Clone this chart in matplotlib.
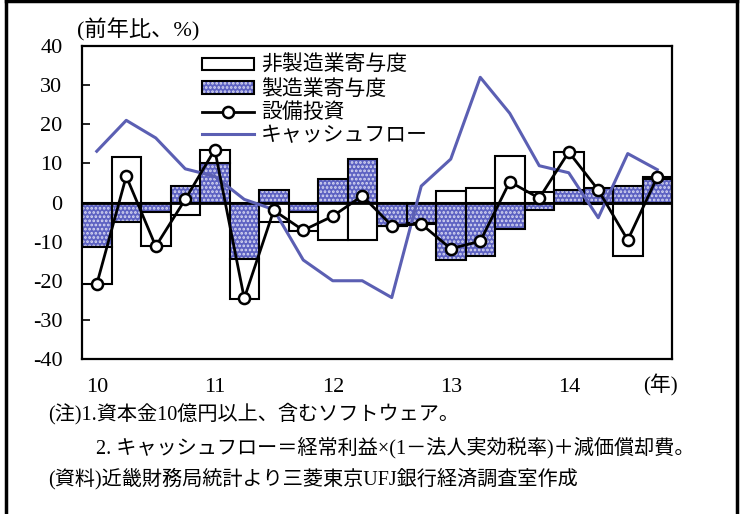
import matplotlib
matplotlib.use('Agg')
import matplotlib.pyplot as plt
from matplotlib.patches import Patch
from matplotlib.lines import Line2D
from matplotlib.legend_handler import HandlerTuple
import numpy as np

plt.rcParams['font.family'] = ['Liberation Serif', 'Noto Sans CJK JP']
plt.rcParams['hatch.linewidth'] = 1.3

# Quarterly data, 2010Q1 - 2014Q4 (year-on-year %, contributions)
quarter_labels = ['10', '', '', '', '11', '', '', '', '12', '', '', '',
                  '13', '', '', '', '14', '', '', '']
manufacturing = [-11.5, -4.9, -2.4, 4.2, 10.1, -14.4, 3.1, -2.5, 6.1, 11.2,
                 -5.9, -5.2, -14.7, -13.7, -6.7, -1.8, 3.3, 3.7, 4.2, 5.9]
non_manufacturing = [-9.3, 11.6, -8.8, -3.3, 3.4, -10.2, -4.9, -4.7, -9.6, -9.6,
                     -0.1, -0.3, 3.0, 3.7, 12.0, 2.6, 9.6, -0.5, -13.7, 0.5]
capex = [-20.9, 6.7, -11.2, 0.8, 13.5, -24.5, -2.0, -7.1, -3.5, 1.7,
         -5.9, -5.5, -11.8, -9.9, 5.3, 1.1, 12.9, 3.2, -9.6, 6.5]
cash_flow = [13.1, 21.0, 16.5, 8.6, 6.7, 0.8, -1.8, -14.7, -20.0, -20.0,
             -24.3, 4.2, 11.1, 32.0, 22.8, 9.4, 7.6, -3.9, 12.5, 8.4]
y_ticks = [-40, -30, -20, -10, 0, 10, 20, 30, 40]

series_labels = ['非製造業寄与度', '製造業寄与度', '設備投資', 'キャッシュフロー']

BAR_BLUE = '#5d62c2'
LINE_BLUE = '#5b5fb3'

W, H = 743, 514
fig = plt.figure(figsize=(W / 100, H / 100), dpi=100)
ax = fig.add_axes([82 / W, 1 - 359 / H, (672 - 82) / W, (359 - 46) / H])

x = np.arange(len(quarter_labels))
mfg = np.array(manufacturing)
nonmfg = np.array(non_manufacturing)
# stack non-manufacturing on top of manufacturing when both share a sign
nonmfg_bottom = np.where(np.sign(nonmfg) == np.sign(mfg), mfg, 0.0)

ax.bar(x, mfg, width=1.0, color=BAR_BLUE, edgecolor='#d8d9f2', hatch='....',
       linewidth=0, zorder=2)
ax.bar(x, mfg, width=1.0, fill=False, edgecolor='black', linewidth=1.5, zorder=3)
ax.bar(x, nonmfg, bottom=nonmfg_bottom, width=1.0, color='white',
       edgecolor='black', linewidth=1.5, zorder=3)
ax.axhline(0, color='black', lw=2.0, zorder=4)
ax.plot(x, cash_flow, color=LINE_BLUE, lw=2.2, zorder=5)
ax.plot(x, capex, color='black', lw=2.0, marker='o', ms=8, mfc='white',
        mec='black', mew=1.8, zorder=6)

ax.set_xlim(-0.5, len(x) - 0.5)
ax.set_ylim(-40, 40)
ax.set_yticks(y_ticks)
ax.set_yticklabels([str(v) for v in y_ticks], fontsize=16)
ax.tick_params(axis='y', direction='in', length=6, width=1.2, pad=14)
ax.set_xticks([])
for s in ax.spines.values():
    s.set_linewidth(1.6)

# category labels below the plot area
for xi, lab in zip(x, quarter_labels):
    if lab:
        ax.annotate(lab, xy=(xi, 0), xycoords=('data', 'axes fraction'),
                    xytext=(0, -28), textcoords='offset pixels',
                    ha='center', va='center', fontsize=16)
fig.text(660 / W, 1 - 385 / H, '(年)', ha='center', va='center', fontsize=15)
fig.text(77 / W, 1 - 30 / H, '(前年比、%)', ha='left', va='center', fontsize=16)

handles = [
    Patch(facecolor='white', edgecolor='black', linewidth=1.5),
    (Patch(facecolor=BAR_BLUE, edgecolor='#d8d9f2', hatch='....', linewidth=0),
     Patch(fill=False, edgecolor='black', linewidth=1.5)),
    Line2D([], [], color='black', lw=2.0, marker='o', ms=8, mfc='white', mew=1.8),
    Line2D([], [], color=LINE_BLUE, lw=2.2),
]
ax.legend(handles, series_labels, handler_map={tuple: HandlerTuple(ndivide=1)},
          loc='upper left', bbox_to_anchor=(0.197, 0.981), frameon=False,
          fontsize=15, handlelength=2.5, handleheight=0.55, handletextpad=0.3,
          labelspacing=0.18, borderpad=0.2, borderaxespad=0.0)

# notes
fig.text(48 / W, 1 - 414 / H, '(注)1.資本金10億円以上、含むソフトウェア。',
         ha='left', va='center', fontsize=14.5)
fig.text(96 / W, 1 - 448 / H,
         '2. キャッシュフロー＝経常利益×(1－法人実効税率)＋減価償却費。',
         ha='left', va='center', fontsize=14.5)
fig.text(48 / W, 1 - 479 / H, '(資料)近畿財務局統計より三菱東京UFJ銀行経済調査室作成',
         ha='left', va='center', fontsize=14.5)

# outer frame
for xs, ys in [([6, 6], [0, H]), ([6, 737], [1, 1]), ([737, 737], [0, H])]:
    fig.add_artist(Line2D([v / W for v in xs], [1 - v / H for v in ys],
                          color='black', lw=2.5, transform=fig.transFigure))

fig.savefig('out.png', dpi=100)
